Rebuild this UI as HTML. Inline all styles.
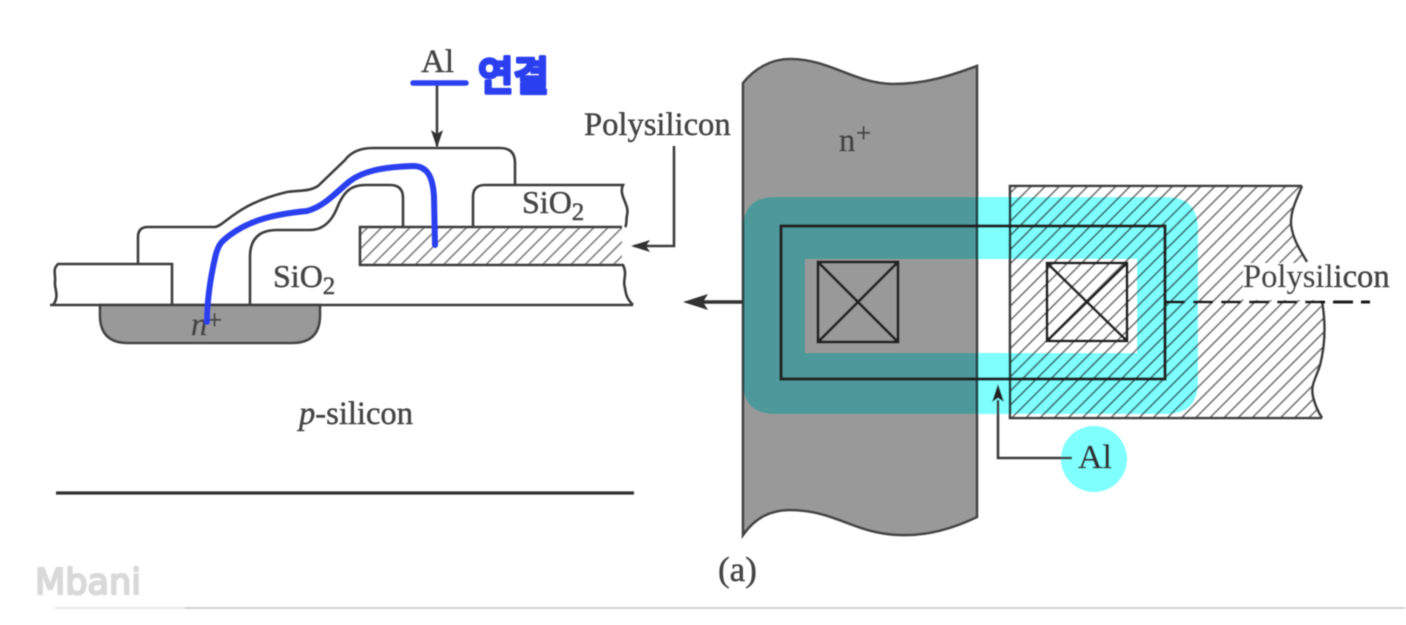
<!DOCTYPE html>
<html lang="ko">
<head>
<meta charset="utf-8">
<style>
html,body{margin:0;padding:0;background:#fff;width:1406px;height:625px;overflow:hidden}
svg{display:block}
.t{font-family:"Liberation Serif","Noto Serif CJK KR",serif;fill:#444;stroke:#444;stroke-width:.45;font-size:32.6px}
.l{fill:none;stroke:#3c3c3c;stroke-width:2.6}
.d{fill:none;stroke:#222;stroke-width:2.8}
</style>
</head>
<body>
<svg width="1406" height="625" viewBox="0 0 1406 625" xmlns="http://www.w3.org/2000/svg">
<defs>
<pattern id="h" width="10" height="10" patternUnits="userSpaceOnUse" patternTransform="rotate(45)">
<rect x="0" y="0" width="1.7" height="10" fill="#6e6e6e"/>
</pattern>
<pattern id="h2" width="10" height="10" patternUnits="userSpaceOnUse" patternTransform="rotate(45)">
<rect x="0" y="0" width="1.6" height="10" fill="#808080"/>
</pattern>
<filter id="b" x="-5%" y="-5%" width="110%" height="110%"><feGaussianBlur stdDeviation="0.65"/></filter>
</defs>
<rect width="1406" height="625" fill="#fff"/>
<g filter="url(#b)">

<!-- LEFT: cross-section -->
<path d="M100 305H320V315Q320 343 292 343H128Q100 343 100 315Z" fill="#999" stroke="#444" stroke-width="2.6"/>
<path class="l" d="M50 305H633"/>
<path class="l" d="M53 305C60 296 54 288 55 282C56 274 52 270 58 264H172V305"/>
<path class="l" d="M138 264V237Q138 227 148 227H215C226 225 236 204 287 192C300 190 308 192 318 186L345 160Q354 148 373 148H500Q515 148 515 163V185"/>
<path class="l" d="M250 305V257Q250 230 277 230H310C325 230 333 218 337 208C343 193 350 185 365 185H390Q403 185 403 198V227"/>
<path class="l" d="M473 227V197Q473 185 485 185H623C618 195 630 205 627 215C626 220 627 225 625 227"/>
<rect x="360" y="227" width="262" height="38" fill="url(#h2)"/>
<path class="l" d="M622 227H360V265H623C628 275 622 280 625 288C626 296 628 300 633 305"/>

<text class="t" x="421" y="72" style="font-size:33px">Al</text>
<path class="l" d="M437 84V146"/>
<path d="M437 148L431 130L437 134L443 130Z" fill="#333"/>
<text class="t" x="584" y="135">Polysilicon</text>
<path class="l" d="M674 146V246H634"/>
<path d="M631 246L650 240L646 246L650 252Z" fill="#333"/>
<text class="t" x="522" y="213" style="font-size:32px">SiO<tspan dy="7" font-size="25">2</tspan></text>
<text class="t" x="273" y="287" style="font-size:32px">SiO<tspan dy="7" font-size="25">2</tspan></text>
<text class="t" x="191" y="335" font-style="italic">n</text>
<text class="t" x="207" y="329" style="font-size:27px">+</text>
<text class="t" x="299" y="424"><tspan font-style="italic">p</tspan>-silicon</text>
<path d="M56 493H634" stroke="#333" stroke-width="3.2" fill="none"/>
<text class="t" x="718" y="581" style="font-size:35px">(a)</text>

<!-- RIGHT: layout -->
<path d="M743 83C755 68 772 59 790 59C830 59 855 84 893 84C925 84 950 76 977 66V517C950 530 925 536 900 535C855 534 835 510 790 510C770 510 755 518 743 535Z" fill="#999" stroke="#444" stroke-width="2.6"/>
<path d="M1010 186H1302C1296 200 1290 212 1291 225C1293 240 1300 250 1307 262L1320 302C1326 325 1325 345 1320 365C1316 378 1310 385 1313 397C1315 405 1318 412 1322 418H1010Z" fill="#fff"/>
<path d="M1010 186H1302C1296 200 1290 212 1291 225C1293 240 1300 250 1307 262L1320 302C1326 325 1325 345 1320 365C1316 378 1310 385 1313 397C1315 405 1318 412 1322 418H1010Z" fill="url(#h)"/>
<rect x="1243" y="263" width="90" height="37" fill="#fff"/>
<path class="l" d="M1302 186C1296 200 1290 212 1291 225C1293 240 1300 250 1307 262"/>
<path class="l" d="M1322 302C1326 325 1325 345 1320 365C1316 378 1310 385 1313 397C1315 405 1318 412 1322 418"/>
<path class="l" d="M1302 186H1010V418H1322"/>

<path style="mix-blend-mode:multiply" fill-rule="evenodd" fill="#80ffff"
 d="M775 197H1166Q1198 197 1198 229V382Q1198 414 1166 414H775Q743 414 743 382V229Q743 197 775 197ZM805 259V353H1137V259Z"/>

<rect x="781" y="226" width="384" height="153" class="d" style="stroke-width:3.2"/>
<rect x="818" y="262" width="80" height="80" class="d"/>
<path class="d" d="M818 262L898 342M898 262L818 342"/>
<rect x="1047" y="263" width="80" height="78" class="d"/>
<path class="d" d="M1047 263L1127 341M1127 263L1047 341"/>
<path d="M1165 302H1370" stroke="#1c1c1c" stroke-width="3" stroke-dasharray="20 8" fill="none"/>
<path d="M743 302H700" stroke="#333" stroke-width="3.4" fill="none"/>
<path d="M683 302L708 294L703 302L708 310Z" fill="#333"/>

<text class="t" x="1243" y="287">Polysilicon</text>
<text class="t" x="839" y="151">n</text>
<text class="t" x="856" y="142" style="font-size:27px">+</text>

<circle cx="1094" cy="459" r="33" fill="#80ffff"/>
<path class="l" d="M998 400V458H1072"/>
<path d="M998 384L992 402L998 398L1004 402Z" fill="#222"/>
<text class="t" x="1078" y="468" style="fill:#333;stroke:#333;font-size:34px">Al</text>

<!-- annotation -->
<path d="M413 83H466" stroke="#2a3ff0" stroke-width="5.5" stroke-linecap="round" fill="none"/>
<path d="M207 322C207 300 210 280 215 258C218 244 222 241 230 235C250 220 275 214 307 211C325 206 335 193 350 181C362 172 380 167 413 166C428 166 433 178 434 197L435 245" stroke="#2a3ff0" stroke-width="6" stroke-linecap="round" stroke-linejoin="round" fill="none"/>
<text x="478" y="90" textLength="71" lengthAdjust="spacingAndGlyphs" style="font-family:'Liberation Sans','Noto Sans CJK KR',sans-serif;font-size:40px;font-weight:500;fill:#2a3ff0;stroke:#2a3ff0;stroke-width:3.4;stroke-linejoin:round">연결</text>

<text x="35" y="594" textLength="106" lengthAdjust="spacingAndGlyphs" style="font-family:'DejaVu Sans',sans-serif;font-size:36px;font-weight:400;fill:#d9d9d9;stroke:#d9d9d9;stroke-width:2.2;stroke-linejoin:round">Mbani</text>
<path d="M55 608H185" stroke="#e2e2e2" stroke-width="1.5" fill="none"/>
<path d="M185 608H1405" stroke="#c4c4c4" stroke-width="1.5" fill="none"/>
</g>
</svg>
</body>
</html>
